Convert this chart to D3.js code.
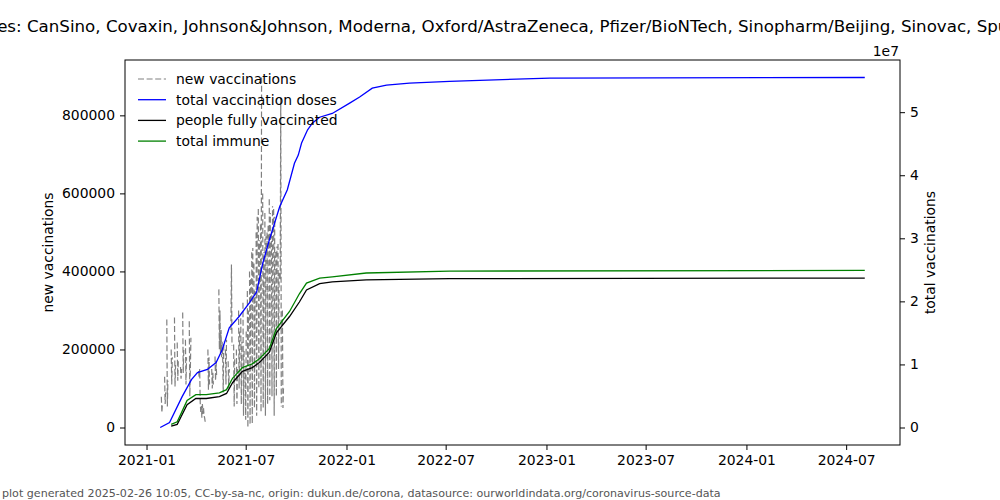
<!DOCTYPE html>
<html>
<head>
<meta charset="utf-8">
<script src="https://cdn.jsdelivr.net/npm/d3@7"></script>
<style>
  body { margin: 0; background: #fff; }
  text { font-family: "DejaVu Sans", sans-serif; }
</style>
</head>
<body>
<div id="container"></div>
<script>
var w = 1000;
var h = 500;

var titleText = "vaccines: CanSino, Covaxin, Johnson&Johnson, Moderna, Oxford/AstraZeneca, Pfizer/BioNTech, Sinopharm/Beijing, Sinovac, Sputnik V";
var footerText = "plot generated 2025-02-26 10:05, CC-by-sa-nc, origin: dukun.de/corona, datasource: ourworldindata.org/coronavirus-source-data";
var legendLabels = ["new vaccinations", "total vaccination doses", "people fully vaccinated", "total immune"];

// daily new vaccinations, first day 2021-01-26 (null = no data that day)
var newStart = "2021-01-26";
var newVaccinations = [
  null, null, 79000, 38000, 60000, null, null, null, 130000, 60000, 90000, null,
  277000, 54000, 120000, null, null, null, null, null,
  200000, 110000, 180000, null, null, null,
  282000, 105000, 160000, null, null,
  218000, 120000, 170000, null, null, null,
  155000, 125000, 150000, null,
  295000, 140000, 200000, null, null,
  225000, 110000, 180000, null, null, null, null,
  272000, 80000, 150000, 230000,
  null, null, null, null, null, null, null, null, null, null, null, null, null,
  145000, 130000, 150000,
  64000, 40000, 55000, 25000, 60000, 35000, 50000, 30000,
  25000, 15000, 20000, null, null, null,
  200000, 97000, 180000, 110000, null, null, null,
  150000, 100000, 140000, 110000, null, null,
  182000, 120000, 170000, 130000, null, null, null,
  354000, 200000, 300000, 190000, 250000, 180000, 220000,
  180000, 90000, 220000, null, null,
  200000, 110000, 225000, null, null,
  170000, 100000, 150000, null, null,
  250000, 418000, 210000, null, null,
  213000, 54000, 180000, null, null,
  200000, 60000, 150000, null,
  300000, 100000, 250000, null,
  280000, 60000, 220000, null,
  320000, 30000, 200000, null,
  140000, 20000, 250000, null,
  350000, 0, 300000, null,
  400000, 8000, 380000, null,
  449000, 10000, 460000, null,
  420000, 50000, 350000, null,
  500000, 30000, 540000, null,
  560000, 100000, 480000, null,
  520000, 40000, 897000, null,
  600000, 50000, 450000, null,
  550000, 30000, 490000, null,
  500000, 60000, 520000, null,
  585000, 70000, 550000, null,
  500000, 80000, 567000, null,
  560000, 30000, 540000, null,
  450000, 80000, 464000, null,
  470000, 150000, 400000, null,
  380000, 846000, 54000, null,
  300000, 50000, 100000
];

var totalDates = ["2021-01-26","2021-02-12","2021-03-07","2021-03-24","2021-04-04","2021-04-22","2021-05-08",
  "2021-05-19","2021-06-01","2021-06-19","2021-07-08","2021-07-21","2021-08-01","2021-08-13","2021-09-01",
  "2021-09-15","2021-09-28","2021-10-05","2021-10-11","2021-10-22","2021-10-31","2021-11-13","2021-12-06",
  "2022-01-06","2022-01-25","2022-02-17","2022-03-15","2022-04-26","2022-07-08","2023-01-07","2024-08-04"];
var totalDoses = [0, 800000, 4900000, 7600000, 8700000, 9200000, 10300000,
  12300000, 15800000, 17600000, 19800000, 21500000, 26000000, 29700000, 35000000,
  37700000, 41900000, 43200000, 45100000, 47200000, 48300000, 49200000, 49800000,
  51400000, 52400000, 53800000, 54300000, 54600000, 54900000, 55400000, 55500000];

var fullyDates = ["2021-02-15","2021-02-26","2021-03-05","2021-03-16","2021-04-01","2021-04-20","2021-05-14",
  "2021-05-27","2021-06-07","2021-06-25","2021-07-13","2021-07-26","2021-08-13","2021-08-26","2021-09-19",
  "2021-10-07","2021-10-20","2021-11-13","2021-12-06","2022-02-06","2022-07-08","2024-08-04"];
var fullyVaccinated = [200000, 500000, 1700000, 3600000, 4600000, 4600000, 4900000,
  5400000, 7100000, 8900000, 9500000, 10300000, 11900000, 15000000, 17600000,
  19900000, 21800000, 22800000, 23100000, 23400000, 23600000, 23700000];
var totalImmune = [500000, 900000, 2200000, 4300000, 5200000, 5200000, 5500000,
  6000000, 7800000, 9500000, 10100000, 10900000, 12500000, 15700000, 18400000,
  21200000, 22900000, 23700000, 23900000, 24500000, 24800000, 24900000];

var leftTicks = [0, 200000, 400000, 600000, 800000];
var rightTicks = [0, 10000000, 20000000, 30000000, 40000000, 50000000];

var parse = d3.timeParse("%Y-%m-%d");
var t0 = parse(newStart);
var newData = newVaccinations.map(function(v, i) { return {date: d3.timeDay.offset(t0, i), value: v}; });
var totalData = totalDates.map(function(d, i) { return {date: parse(d), value: totalDoses[i]}; });
var fullyData = fullyDates.map(function(d, i) { return {date: parse(d), value: fullyVaccinated[i]}; });
var immuneData = fullyDates.map(function(d, i) { return {date: parse(d), value: totalImmune[i]}; });

// matplotlib style 5% margins
function pad(ext) {
  var r = ext[1] - ext[0];
  return [ext[0] - 0.05 * r, ext[1] + 0.05 * r];
}

var m = {left: 125, right: 900, top: 60, bottom: 445};

var allDates = newData.map(function(d) { return d.date; })
  .concat(totalData.map(function(d) { return d.date; }))
  .concat(fullyData.map(function(d) { return d.date; }));
var dExt = d3.extent(allDates);
var dSpan = dExt[1] - dExt[0];
var x = d3.scaleTime()
  .domain([new Date(+dExt[0] - 0.05 * dSpan), new Date(+dExt[1] + 0.05 * dSpan)])
  .range([m.left, m.right]);

var yL = d3.scaleLinear()
  .domain(pad(d3.extent(newVaccinations.filter(function(v) { return v != null; }))))
  .range([m.bottom, m.top]);

var yR = d3.scaleLinear()
  .domain(pad(d3.extent(totalDoses.concat(fullyVaccinated, totalImmune))))
  .range([m.bottom, m.top]);

var svg = d3.select("div#container").append("svg")
  .attr("width", w)
  .attr("height", h)
  .style("background-color", "#fff");

svg.append("text")
  .attr("x", w / 2)
  .attr("y", 32)
  .attr("text-anchor", "middle")
  .style("font-size", "16.67px")
  .text(titleText);

svg.append("defs").append("clipPath")
  .attr("id", "clip")
  .append("rect")
  .attr("x", m.left)
  .attr("y", m.top)
  .attr("width", m.right - m.left)
  .attr("height", m.bottom - m.top);

var plot = svg.append("g").attr("clip-path", "url(#clip)");

var lineL = d3.line()
  .defined(function(d) { return d.value != null; })
  .x(function(d) { return x(d.date); })
  .y(function(d) { return yL(d.value); });

var lineR = d3.line()
  .x(function(d) { return x(d.date); })
  .y(function(d) { return yR(d.value); });

plot.append("path")
  .datum(newData)
  .attr("d", lineL)
  .style("fill", "none")
  .style("stroke", "#808080")
  .style("stroke-width", 1.2)
  .style("stroke-dasharray", "6,2.6");

plot.append("path")
  .datum(totalData)
  .attr("d", lineR)
  .style("fill", "none")
  .style("stroke", "#0000ff")
  .style("stroke-width", 1.3);

plot.append("path")
  .datum(fullyData)
  .attr("d", lineR)
  .style("fill", "none")
  .style("stroke", "#000")
  .style("stroke-width", 1.3);

plot.append("path")
  .datum(immuneData)
  .attr("d", lineR)
  .style("fill", "none")
  .style("stroke", "#008000")
  .style("stroke-width", 1.3);

// axes
var gx = svg.append("g")
  .attr("transform", "translate(0," + m.bottom + ")")
  .call(d3.axisBottom(x).ticks(d3.timeMonth.every(6)).tickFormat(d3.timeFormat("%Y-%m")).tickSize(5).tickPadding(5));

var gl = svg.append("g")
  .attr("transform", "translate(" + m.left + ",0)")
  .call(d3.axisLeft(yL).tickValues(leftTicks).tickFormat(d3.format("d")).tickSize(5).tickPadding(5));

var gr = svg.append("g")
  .attr("transform", "translate(" + m.right + ",0)")
  .call(d3.axisRight(yR).tickValues(rightTicks).tickFormat(function(d) { return d / 1e7; }).tickSize(5).tickPadding(5));

[gx, gl, gr].forEach(function(g) {
  g.select(".domain").remove();
  g.selectAll("text")
    .attr("fill", "#000")
    .style("font-size", "13.9px")
    .style("font-family", "DejaVu Sans");
  g.selectAll("line").attr("stroke", "#000").attr("stroke-width", 1);
});

//Marco
svg.append("rect")
  .attr("x", m.left)
  .attr("y", m.top)
  .attr("width", m.right - m.left)
  .attr("height", m.bottom - m.top)
  .style("fill", "none")
  .style("stroke", "#000")
  .style("stroke-width", 1);

svg.append("text")
  .attr("x", m.right - 1)
  .attr("y", 56)
  .attr("text-anchor", "end")
  .style("font-size", "13.9px")
  .text("1e7");

svg.append("text")
  .attr("transform", "translate(53," + (m.top + m.bottom) / 2 + ") rotate(-90)")
  .attr("text-anchor", "middle")
  .style("font-size", "13.9px")
  .text("new vaccinations");

svg.append("text")
  .attr("transform", "translate(935," + (m.top + m.bottom) / 2 + ") rotate(-90)")
  .attr("text-anchor", "middle")
  .style("font-size", "13.9px")
  .text("total vaccinations");

// legend
var legendColors = ["#808080", "#0000ff", "#000", "#008000"];
var legend = svg.append("g").attr("transform", "translate(138,79)");
legendLabels.forEach(function(lab, i) {
  var row = legend.append("g").attr("transform", "translate(0," + (i * 20.7) + ")");
  row.append("line")
    .attr("x1", 0).attr("x2", 28)
    .attr("y1", 0).attr("y2", 0)
    .style("stroke", legendColors[i])
    .style("stroke-width", i == 0 ? 1.2 : 1.3)
    .style("stroke-dasharray", i == 0 ? "6,2.6" : null);
  row.append("text")
    .attr("x", 38)
    .attr("y", 5)
    .style("font-size", "13.9px")
    .attr("fill", "#000")
    .text(lab);
});

svg.append("text")
  .attr("x", 2)
  .attr("y", 497)
  .style("font-size", "11.1px")
  .attr("fill", "#555")
  .text(footerText);
</script>
</body>
</html>
